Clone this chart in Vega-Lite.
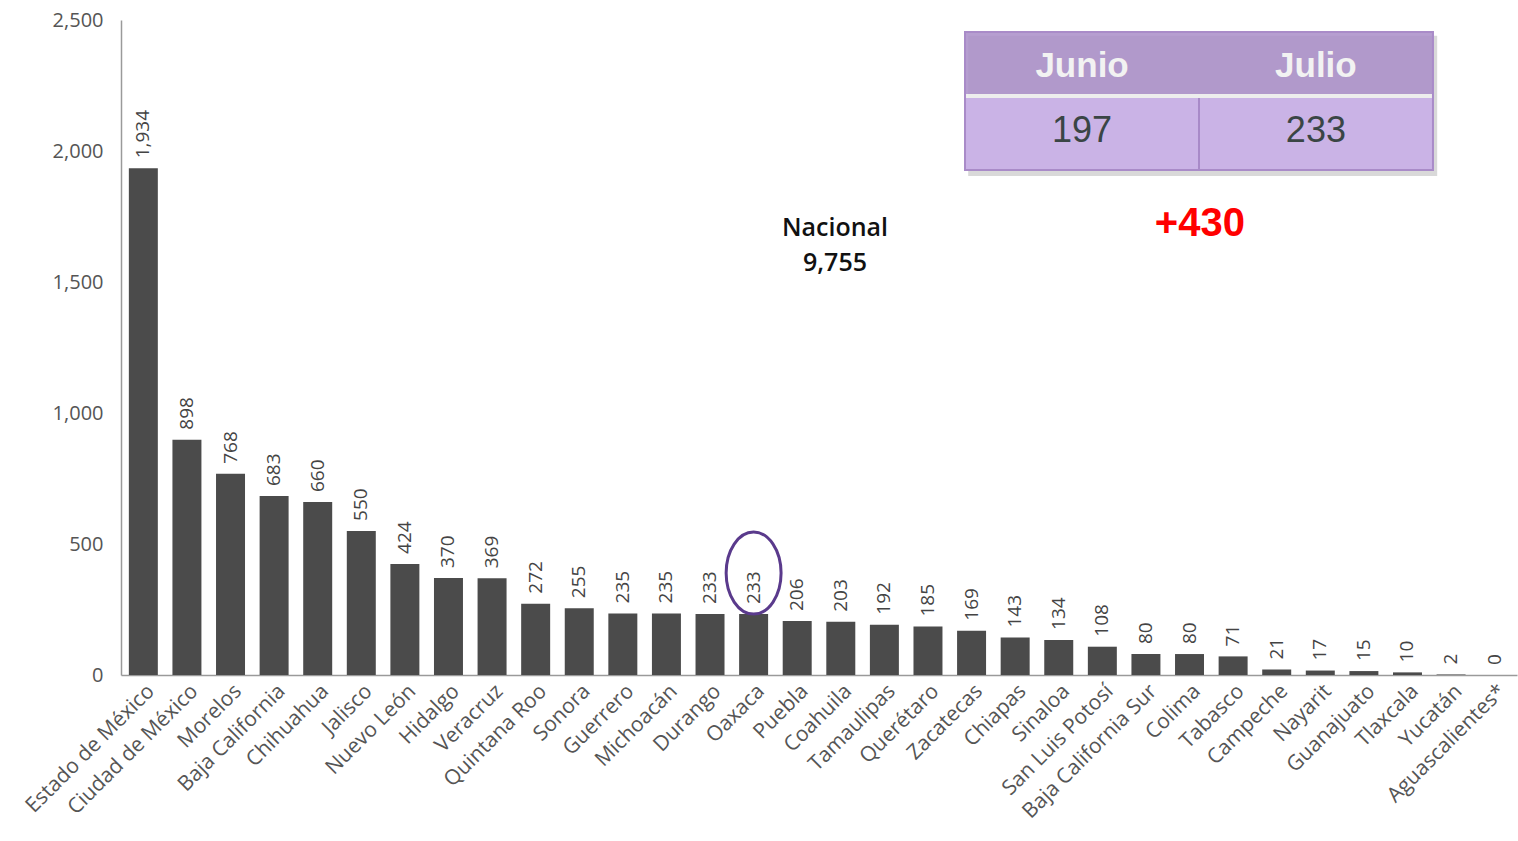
{
  "$schema": "https://vega.github.io/schema/vega-lite/v6.json",
  "width": 1396,
  "height": 655,
  "autosize": {"type": "none"},
  "padding": {"left": 121, "top": 20, "right": 1, "bottom": 166},
  "background": "#ffffff",
  "config": {"view": {"stroke": null}},
  "layer": [
    {
      "data": {"values": [
        {"estado": "Estado de México", "casos": 1934},
        {"estado": "Ciudad de México", "casos": 898},
        {"estado": "Morelos", "casos": 768},
        {"estado": "Baja California", "casos": 683},
        {"estado": "Chihuahua", "casos": 660},
        {"estado": "Jalisco", "casos": 550},
        {"estado": "Nuevo León", "casos": 424},
        {"estado": "Hidalgo", "casos": 370},
        {"estado": "Veracruz", "casos": 369},
        {"estado": "Quintana Roo", "casos": 272},
        {"estado": "Sonora", "casos": 255},
        {"estado": "Guerrero", "casos": 235},
        {"estado": "Michoacán", "casos": 235},
        {"estado": "Durango", "casos": 233},
        {"estado": "Oaxaca", "casos": 233},
        {"estado": "Puebla", "casos": 206},
        {"estado": "Coahuila", "casos": 203},
        {"estado": "Tamaulipas", "casos": 192},
        {"estado": "Querétaro", "casos": 185},
        {"estado": "Zacatecas", "casos": 169},
        {"estado": "Chiapas", "casos": 143},
        {"estado": "Sinaloa", "casos": 134},
        {"estado": "San Luis Potosí", "casos": 108},
        {"estado": "Baja California Sur", "casos": 80},
        {"estado": "Colima", "casos": 80},
        {"estado": "Tabasco", "casos": 71},
        {"estado": "Campeche", "casos": 21},
        {"estado": "Nayarit", "casos": 17},
        {"estado": "Guanajuato", "casos": 15},
        {"estado": "Tlaxcala", "casos": 10},
        {"estado": "Yucatán", "casos": 2},
        {"estado": "Aguascalientes*", "casos": 0}
      ]},
      "encoding": {
        "x": {
          "field": "estado", "type": "nominal", "sort": null,
          "scale": {"paddingInner": 0.335, "paddingOuter": 0.18},
          "axis": {
            "title": null, "ticks": false, "domainColor": "#9a9a9a", "domainWidth": 1.5,
            "labelAngle": -45, "labelFont": "Open Sans", "labelFontSize": 21,
            "labelColor": "#555555", "labelPadding": 5, "labelOverlap": false, "labelLimit": 300
          }
        },
        "y": {
          "field": "casos", "type": "quantitative",
          "scale": {"domain": [0, 2500], "nice": false},
          "axis": {
            "title": null, "ticks": false, "grid": false, "domainColor": "#9a9a9a", "domainWidth": 1.5,
            "values": [0, 500, 1000, 1500, 2000, 2500], "format": ",d",
            "labelFont": "Open Sans", "labelFontSize": 20, "labelColor": "#555555", "labelPadding": 18
          }
        }
      },
      "layer": [
        {"mark": {"type": "bar", "color": "#4b4b4b"}},
        {
          "mark": {"type": "text", "angle": -90, "align": "left", "baseline": "middle", "dx": 10,
                   "font": "Open Sans", "fontSize": 19, "color": "#444444"},
          "encoding": {"text": {"field": "casos", "type": "quantitative", "format": ",d"}}
        },
        {
          "transform": [{"filter": "datum.estado === 'Oaxaca'"}],
          "mark": {"type": "point", "filled": false, "stroke": "#5a3a8c", "strokeWidth": 3, "opacity": 1,
                   "shape": "M-0.67,0 A0.67,1 0 1,1 0.67,0 A0.67,1 0 1,1 -0.67,0 Z", "size": 6724},
          "encoding": {"y": {"datum": 389, "type": "quantitative"}}
        }
      ]
    },
    {
      "data": {"values": [
        {"part": "shadow", "x0": 19.42, "x1": 30.17, "y0": 1905, "y1": 2440},
        {"part": "header", "x0": 19.347, "x1": 30.074, "y0": 2217.6, "y1": 2454.2},
        {"part": "stripe", "x0": 19.347, "x1": 30.074, "y0": 2202.3, "y1": 2217.6},
        {"part": "body", "x0": 19.347, "x1": 30.074, "y0": 1927.5, "y1": 2202.3}
      ]},
      "mark": {"type": "rect"},
      "encoding": {
        "x": {"field": "x0", "type": "quantitative", "scale": {"domain": [0, 32], "nice": false, "zero": false}, "axis": null},
        "x2": {"field": "x1"},
        "y": {"field": "y0", "type": "quantitative"},
        "y2": {"field": "y1"},
        "color": {
          "field": "part", "type": "nominal", "legend": null,
          "scale": {"domain": ["shadow", "header", "stripe", "body"], "range": ["#d0d0d0", "#ab8fc9", "#eeeeee", "#cab3e6"]}
        },
        "opacity": {
          "field": "part", "type": "nominal", "legend": null,
          "scale": {"domain": ["shadow", "header", "stripe", "body"], "range": [0.8, 1, 1, 1]}
        }
      }
    },
    {
      "data": {"values": [
        {"x0": 19.347, "x1": 30.074, "y0": 1927.5, "y1": 2454.2}
      ]},
      "mark": {"type": "rect", "filled": false, "stroke": "#a98bc8", "strokeWidth": 2},
      "encoding": {
        "x": {"field": "x0", "type": "quantitative", "scale": {"domain": [0, 32], "nice": false, "zero": false}, "axis": null},
        "x2": {"field": "x1"},
        "y": {"field": "y0", "type": "quantitative"},
        "y2": {"field": "y1"}
      }
    },
    {
      "data": {"values": [
        {"x0": 24.711, "y0": 1927.5, "y1": 2202.3}
      ]},
      "mark": {"type": "rule", "stroke": "#a88ac8", "strokeWidth": 2},
      "encoding": {
        "x": {"field": "x0", "type": "quantitative", "scale": {"domain": [0, 32], "nice": false, "zero": false}, "axis": null},
        "y": {"field": "y0", "type": "quantitative"},
        "y2": {"field": "y1"}
      }
    },
    {
      "data": {"values": [
        {"t": "Junio", "x": 22.03, "y": 2324.4},
        {"t": "Julio", "x": 27.39, "y": 2324.4}
      ]},
      "mark": {"type": "text", "font": "Liberation Sans", "fontWeight": "bold", "fontSize": 35, "color": "#f2f2f2", "baseline": "middle", "align": "center"},
      "encoding": {
        "x": {"field": "x", "type": "quantitative", "scale": {"domain": [0, 32], "nice": false, "zero": false}, "axis": null},
        "y": {"field": "y", "type": "quantitative"},
        "text": {"field": "t"}
      }
    },
    {
      "data": {"values": [
        {"t": "197", "x": 22.03, "y": 2076.3},
        {"t": "233", "x": 27.39, "y": 2076.3}
      ]},
      "mark": {"type": "text", "font": "Liberation Sans", "fontSize": 36, "color": "#3a4545", "baseline": "middle", "align": "center"},
      "encoding": {
        "x": {"field": "x", "type": "quantitative", "scale": {"domain": [0, 32], "nice": false, "zero": false}, "axis": null},
        "y": {"field": "y", "type": "quantitative"},
        "text": {"field": "t"}
      }
    },
    {
      "data": {"values": [
        {"t": "Nacional", "x": 16.367, "y": 1706},
        {"t": "9,755", "x": 16.367, "y": 1572}
      ]},
      "mark": {"type": "text", "font": "Open Sans", "fontWeight": 600, "fontSize": 25, "color": "#111111", "baseline": "middle", "align": "center"},
      "encoding": {
        "x": {"field": "x", "type": "quantitative", "scale": {"domain": [0, 32], "nice": false, "zero": false}, "axis": null},
        "y": {"field": "y", "type": "quantitative"},
        "text": {"field": "t"}
      }
    },
    {
      "data": {"values": [
        {"t": "+430", "x": 24.73, "y": 1721.4}
      ]},
      "mark": {"type": "text", "font": "Liberation Sans", "fontWeight": "bold", "fontSize": 40, "color": "#ff0000", "baseline": "middle", "align": "center"},
      "encoding": {
        "x": {"field": "x", "type": "quantitative", "scale": {"domain": [0, 32], "nice": false, "zero": false}, "axis": null},
        "y": {"field": "y", "type": "quantitative"},
        "text": {"field": "t"}
      }
    }
  ],
  "resolve": {"scale": {"x": "independent", "color": "independent", "opacity": "independent"}}
}
